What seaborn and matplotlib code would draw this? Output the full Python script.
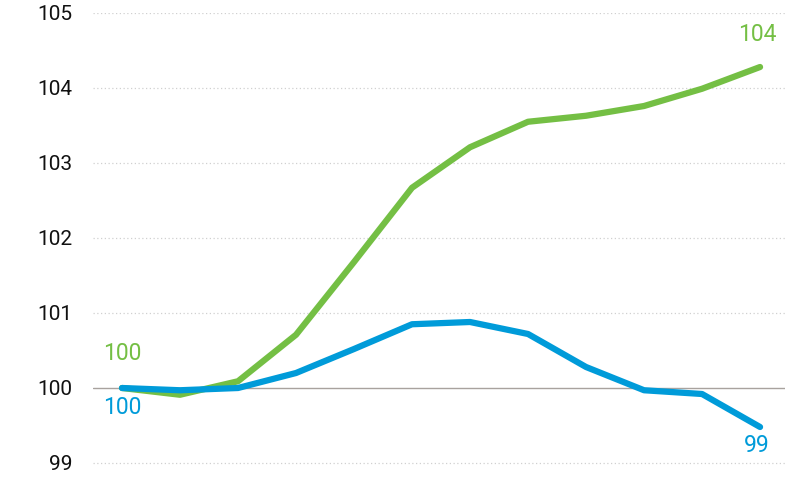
import numpy as np
import pandas as pd
import matplotlib
matplotlib.use("Agg")
import matplotlib.pyplot as plt
import seaborn as sns

# 데이터
periods = list(range(12))
green_vals = [100.00, 99.91, 100.09, 100.71, 101.68, 102.67, 103.21, 103.55, 103.63, 103.76, 103.99, 104.28]
blue_vals = [100.00, 99.97, 100.00, 100.20, 100.52, 100.85, 100.88, 100.72, 100.28, 99.97, 99.92, 99.48]
y_ticks = [99, 100, 101, 102, 103, 104, 105]

GREEN = "#74BF44"
BLUE = "#009BD9"

df = pd.DataFrame({
    "period": periods * 2,
    "value": green_vals + blue_vals,
    "series": ["green"] * len(periods) + ["blue"] * len(periods),
})

sns.set_style("white")
plt.rcParams["font.family"] = ["Roboto", "DejaVu Sans"]

fig = plt.figure(figsize=(8, 4.8), dpi=100)
ax = fig.add_axes([93 / 800, 1 - 475 / 480, (785 - 93) / 800, (475 - 13) / 480])

# 그리드
for t in y_ticks:
    if t == 100:
        ax.axhline(t, color="#a8a29e", lw=1.0, zorder=1)
    else:
        ax.axhline(t, color="#d0d0d0", lw=0.9, ls=(0, (1, 2)), zorder=1)

sns.lineplot(
    data=df, x="period", y="value", hue="series",
    palette={"green": GREEN, "blue": BLUE},
    hue_order=["green", "blue"],
    lw=4.5, legend=False, ax=ax, zorder=3,
)
for line in ax.lines[-2:]:
    line.set_solid_capstyle("round")
    line.set_solid_joinstyle("round")

ax.set_xlim(-0.5, 11.43)
ax.set_ylim(99 - 12 / 75, 105)
ax.set_yticks(y_ticks)
ax.set_yticklabels([str(t) for t in y_ticks], fontsize=15, color="#111111")
ax.set_xticks([])
ax.tick_params(axis="y", length=0, pad=15)
ax.set_xlabel("")
ax.set_ylabel("")
for s in ax.spines.values():
    s.set_visible(False)

# 시작/끝 라벨
ax.text(periods[0], green_vals[0] + 0.46, f"{green_vals[0]:.0f}", color=GREEN,
        fontsize=16.5, ha="center", va="center")
ax.text(periods[0], blue_vals[0] - 0.26, f"{blue_vals[0]:.0f}", color=BLUE,
        fontsize=16.5, ha="center", va="center")
ax.text(periods[-1] - 0.05, green_vals[-1] + 0.43, f"{green_vals[-1]:.0f}", color=GREEN,
        fontsize=16.5, ha="center", va="center")
ax.text(periods[-1] - 0.05, blue_vals[-1] - 0.25, f"{blue_vals[-1]:.0f}", color=BLUE,
        fontsize=16.5, ha="center", va="center")

fig.savefig("out.png", dpi=100)
